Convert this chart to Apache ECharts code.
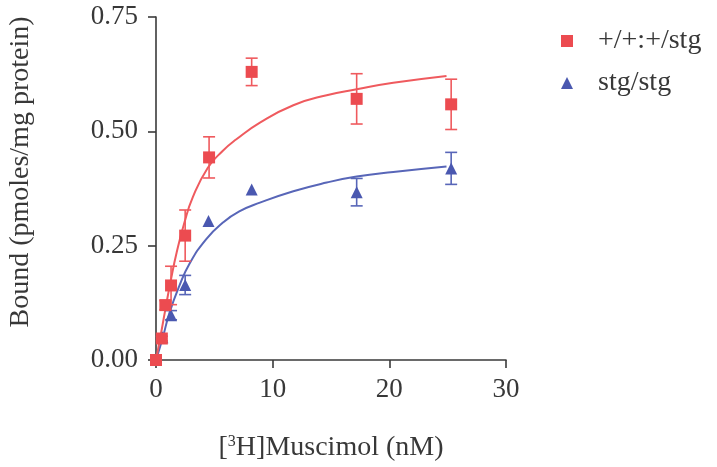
<!DOCTYPE html>
<html>
<head>
<meta charset="utf-8">
<script src="https://cdn.jsdelivr.net/npm/echarts@6/dist/echarts.min.js"></script>
<style>
html,body{margin:0;padding:0;background:#fff;}
#chart{width:717px;height:467px;}
</style>
</head>
<body>
<div id="chart"></div>
<script>
// ---- data ----
var seriesNames = ['+/+:+/stg', 'stg/stg'];

var wtX   = [0, 0.5, 0.8, 1.29, 2.5, 4.55, 8.2, 17.2, 25.3];
var wtY   = [0, 0.047, 0.12, 0.163, 0.272, 0.443, 0.63, 0.571, 0.559];
var wtErr = [0, 0.005, 0.01, 0.042, 0.056, 0.045, 0.03, 0.055, 0.055];

var stgX   = [0.55, 1.29, 2.5, 4.5, 8.2, 17.2, 25.3];
var stgY   = [0.05, 0.098, 0.164, 0.304, 0.373, 0.367, 0.419];
var stgErr = [0, 0.01, 0.021, 0, 0, 0.03, 0.035];

// fitted curves
var wtFitX = [0, 0.43, 0.86, 1.29, 1.77, 2.43, 3.14, 4.43, 5.71, 6.86, 8.91, 11.77, 14.63, 17.2, 20.34, 24.9];
var wtFitY = [0, 0.058, 0.119, 0.177, 0.235, 0.30, 0.355, 0.42, 0.457, 0.482, 0.519, 0.557, 0.579, 0.592, 0.606, 0.621];
var stgFitX = [0, 0.57, 1.14, 2.0, 2.86, 4.29, 5.71, 7.14, 8.91, 11.77, 14.63, 17.2, 20.34, 24.9];
var stgFitY = [0, 0.048, 0.102, 0.162, 0.21, 0.264, 0.30, 0.325, 0.344, 0.369, 0.388, 0.401, 0.411, 0.423];

var xTicks = [0, 10, 20, 30];
var yTicks = [0, 0.25, 0.5, 0.75];

// ---- build ----
var RED = '#ec4b50', BLUE = '#4a58b0';
var RED_L = '#ef5a5e', BLUE_L = '#5866b8';
var FONT = "'Liberation Serif', 'Times New Roman', serif";
var TXT = '#383838';

function zip(a, b) { return a.map(function (v, i) { return [v, b[i]]; }); }
function errData(x, y, e) { return x.map(function (v, i) { return [v, y[i] - e[i], y[i] + e[i]]; }); }

function errRender(color) {
  return function (params, api) {
    var x = api.value(0), lo = api.value(1), hi = api.value(2);
    if (hi - lo <= 0) return null;
    var p1 = api.coord([x, lo]), p2 = api.coord([x, hi]);
    var w = 6;
    var st = { stroke: color, lineWidth: 1.6 };
    return {
      type: 'group',
      children: [
        { type: 'line', shape: { x1: p1[0], y1: p1[1], x2: p2[0], y2: p2[1] }, style: st },
        { type: 'line', shape: { x1: p1[0] - w, y1: p1[1], x2: p1[0] + w, y2: p1[1] }, style: st },
        { type: 'line', shape: { x1: p2[0] - w, y1: p2[1], x2: p2[0] + w, y2: p2[1] }, style: st }
      ]
    };
  };
}

var chart = echarts.init(document.getElementById('chart'), null, { renderer: 'canvas' });

var axisLineStyle = { color: '#3a3a3a', width: 1.6 };

chart.setOption({
  backgroundColor: '#fff',
  animation: false,
  textStyle: { fontFamily: FONT },
  grid: { left: 156, right: 211, top: 17, bottom: 106 },
  xAxis: {
    type: 'value', min: xTicks[0], max: xTicks[xTicks.length - 1], interval: 10,
    splitLine: { show: false },
    axisLine: { lineStyle: axisLineStyle },
    axisTick: { length: 8, lineStyle: axisLineStyle },
    axisLabel: { color: TXT, fontSize: 27, fontFamily: FONT, margin: 16 },
    name: '[{s|3}H]Muscimol (nM)',
    nameLocation: 'middle', nameGap: 74,
    nameTextStyle: {
      color: TXT, fontSize: 28, fontFamily: FONT,
      rich: { s: { fontSize: 16, fontFamily: FONT, color: TXT, verticalAlign: 'top', padding: [0, 0, 12, 0] } }
    }
  },
  yAxis: {
    type: 'value', min: yTicks[0], max: yTicks[yTicks.length - 1], interval: 0.25,
    splitLine: { show: false },
    axisLine: { show: true, lineStyle: axisLineStyle },
    axisTick: { show: true, length: 8, lineStyle: axisLineStyle },
    axisLabel: { color: TXT, fontSize: 27, fontFamily: FONT, margin: 18,
      formatter: function (v) { return v.toFixed(2); } }
  },
  graphic: [{
    type: 'text',
    x: 21, y: 172,
    rotation: Math.PI / 2,
    style: { text: 'Bound (pmoles/mg protein)', fill: TXT, fontSize: 28, fontFamily: FONT,
      align: 'center', verticalAlign: 'middle' }
  }],
  legend: {
    orient: 'vertical', left: 556, top: 22, itemWidth: 12, itemHeight: 12, itemGap: 14,
    data: [{ name: seriesNames[0], icon: 'rect' }, { name: seriesNames[1], icon: 'triangle' }],
    textStyle: { color: TXT, fontSize: 28, fontFamily: FONT, padding: [0, 0, 0, 20] }
  },
  series: [
    { name: 'fitStg', type: 'line', data: zip(stgFitX, stgFitY), showSymbol: false, smooth: 0.5,
      lineStyle: { color: BLUE_L, width: 2 }, z: 2, silent: true },
    { name: 'fitWt', type: 'line', data: zip(wtFitX, wtFitY), showSymbol: false, smooth: 0.5,
      lineStyle: { color: RED_L, width: 2 }, z: 2, silent: true },
    { name: 'errStg', type: 'custom', renderItem: errRender(BLUE_L), data: errData(stgX, stgY, stgErr), z: 3, clip: false },
    { name: 'errWt', type: 'custom', renderItem: errRender(RED_L), data: errData(wtX, wtY, wtErr), z: 3, clip: false },
    { name: seriesNames[1], type: 'scatter', symbol: 'triangle', symbolSize: 12, data: zip(stgX, stgY),
      itemStyle: { color: BLUE, opacity: 1 }, z: 4, clip: false },
    { name: seriesNames[0], type: 'scatter', symbol: 'rect', symbolSize: 12, data: zip(wtX, wtY),
      itemStyle: { color: RED, opacity: 1 }, z: 5, clip: false }
  ]
});
</script>
</body>
</html>
